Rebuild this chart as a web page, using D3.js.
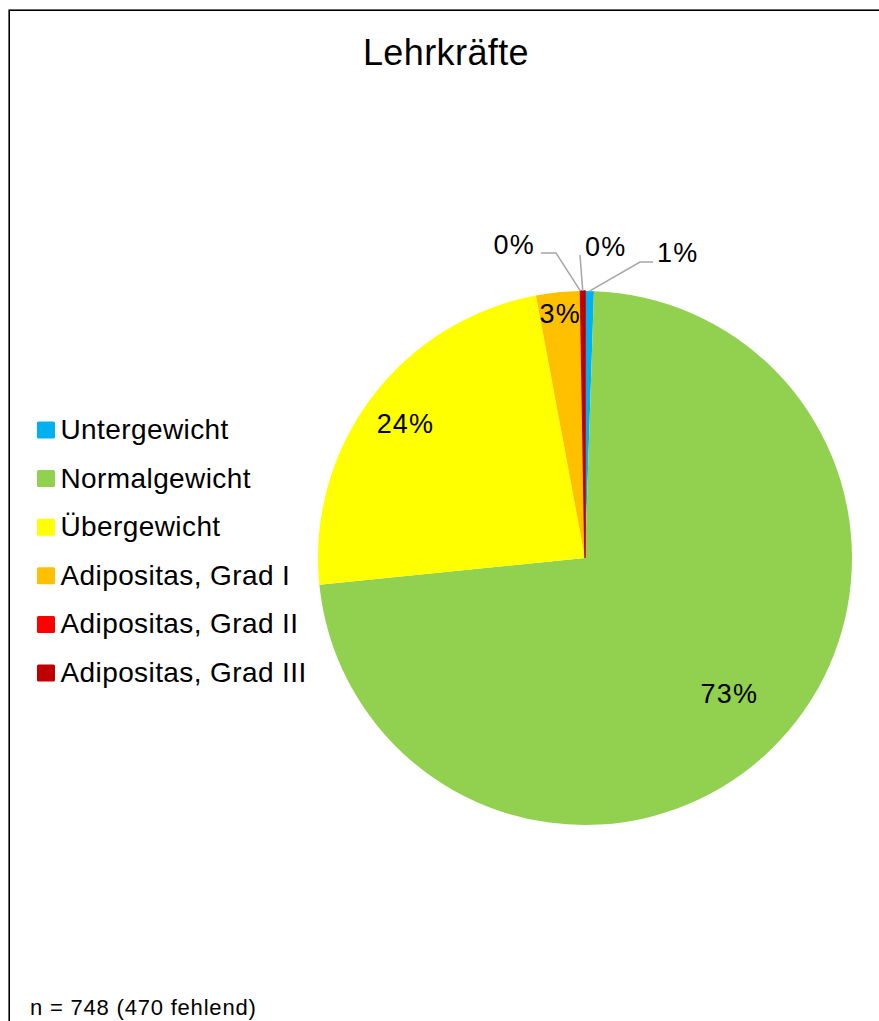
<!DOCTYPE html>
<html>
<head>
<meta charset="utf-8">
<script src="https://cdn.jsdelivr.net/npm/d3@7"></script>
<style>
  body { margin: 0; background: #fff; }
  text { font-family: "Liberation Sans", Arial, sans-serif; fill: #000; }
</style>
</head>
<body>
<div id="chart"></div>
<script>
// data (n = 748)
const categories = ["Untergewicht", "Normalgewicht", "Übergewicht",
  "Adipositas, Grad I", "Adipositas, Grad II", "Adipositas, Grad III"];
const counts = [4, 545, 177, 20, 0, 2];
const percentLabels = ["1%", "73%", "24%", "3%", "0%", "0%"];
const sliceColors = ["#00B0F0", "#92D050", "#FFFF00", "#FFC000", "#FF0000", "#C00000"];
const chartTitle = "Lehrkräfte";
const footnote = "n = 748 (470 fehlend)";

const W = 879, H = 1021;
const cx = 585, cy = 558, radius = 267;

// inside label distance as fraction of radius
const insideLabelRadius = { "Normalgewicht": 0.74, "Übergewicht": 0.84, "Adipositas, Grad I": 0.92 };
// outside labels: offsets from pie centre for leader elbow/end and text
const outsideLabels = {
  "Untergewicht": { elbow: [55, -296], end: [68, -296], text: [72, -296], anchor: "start" },
  "Adipositas, Grad II": { elbow: [-29, -305], end: [-44, -305], text: [-50, -304], anchor: "end" },
  "Adipositas, Grad III": { elbow: [-5, -303], end: [-5, -303], text: [0, -302], anchor: "start" }
};

const data = categories.map((c, i) => ({ name: c, value: counts[i], label: percentLabels[i] }));

const color = d3.scaleOrdinal().domain(categories).range(sliceColors);

const svg = d3.select("#chart").append("svg")
  .attr("width", W)
  .attr("height", H);

svg.append("rect")
  .attr("width", W).attr("height", H)
  .attr("fill", "#fff");

// chart frame (runs off the right and bottom of the picture)
svg.append("rect")
  .attr("x", 9.2).attr("y", 10.2)
  .attr("width", 1000).attr("height", 1100)
  .attr("fill", "none")
  .attr("stroke", "#000")
  .attr("stroke-width", 1.6);

svg.append("text")
  .attr("x", 446).attr("y", 65)
  .attr("text-anchor", "middle")
  .style("font-size", "36px")
  .style("letter-spacing", "0.4px")
  .text(chartTitle);

const pie = d3.pie().sort(null).value(d => d.value).startAngle(0).endAngle(2 * Math.PI);
const arcs = pie(data);
const arc = d3.arc().innerRadius(0).outerRadius(radius);

const g = svg.append("g").attr("transform", `translate(${cx},${cy})`);

g.selectAll("path.slice")
  .data(arcs)
  .join("path")
  .attr("class", "slice")
  .attr("d", arc)
  .attr("fill", d => color(d.data.name))
  .attr("stroke", d => d.data.name === "Adipositas, Grad III" ? color(d.data.name) : "none")
  .attr("stroke-width", 1.5);

// labels inside the slices
g.selectAll("text.inside")
  .data(arcs.filter(d => insideLabelRadius[d.data.name]))
  .join("text")
  .attr("class", "inside")
  .attr("transform", d => {
    const k = insideLabelRadius[d.data.name] * radius;
    const p = d3.arc().innerRadius(k).outerRadius(k).centroid(d);
    return `translate(${p[0]},${p[1]})`;
  })
  .attr("text-anchor", "middle")
  .attr("dy", "0.36em")
  .style("font-size", "27px")
  .style("letter-spacing", "1.2px")
  .text(d => d.data.label);

// labels outside with leader lines
const edgeArc = d3.arc().innerRadius(radius).outerRadius(radius);
const outside = arcs.filter(d => outsideLabels[d.data.name]);

g.selectAll("polyline.leader")
  .data(outside)
  .join("polyline")
  .attr("class", "leader")
  .attr("points", d => {
    const L = outsideLabels[d.data.name];
    const p = edgeArc.centroid(d);
    return [p, L.elbow, L.end].map(q => q.join(",")).join(" ");
  })
  .attr("fill", "none")
  .attr("stroke", "#A6A6A6")
  .attr("stroke-width", 1.5);

g.selectAll("text.outside")
  .data(outside)
  .join("text")
  .attr("class", "outside")
  .attr("x", d => outsideLabels[d.data.name].text[0])
  .attr("y", d => outsideLabels[d.data.name].text[1])
  .attr("text-anchor", d => outsideLabels[d.data.name].anchor)
  .style("font-size", "27px")
  .style("letter-spacing", "1.2px")
  .text(d => d.data.label);

// legend
const legendY = d3.scalePoint().domain(categories).range([439, 682]);

const legend = svg.append("g").selectAll("g")
  .data(categories)
  .join("g")
  .attr("transform", d => `translate(0,${legendY(d)})`);

legend.append("rect")
  .attr("x", 37).attr("y", -17.5)
  .attr("width", 18).attr("height", 17)
  .attr("rx", 1.5)
  .attr("fill", d => color(d));

legend.append("text")
  .attr("x", 60.5).attr("y", 0)
  .style("font-size", "28px")
  .style("letter-spacing", "0.4px")
  .text(d => d);

svg.append("text")
  .attr("x", 30).attr("y", 1015)
  .style("font-size", "22px")
  .style("letter-spacing", "0.8px")
  .text(footnote);
</script>
</body>
</html>
